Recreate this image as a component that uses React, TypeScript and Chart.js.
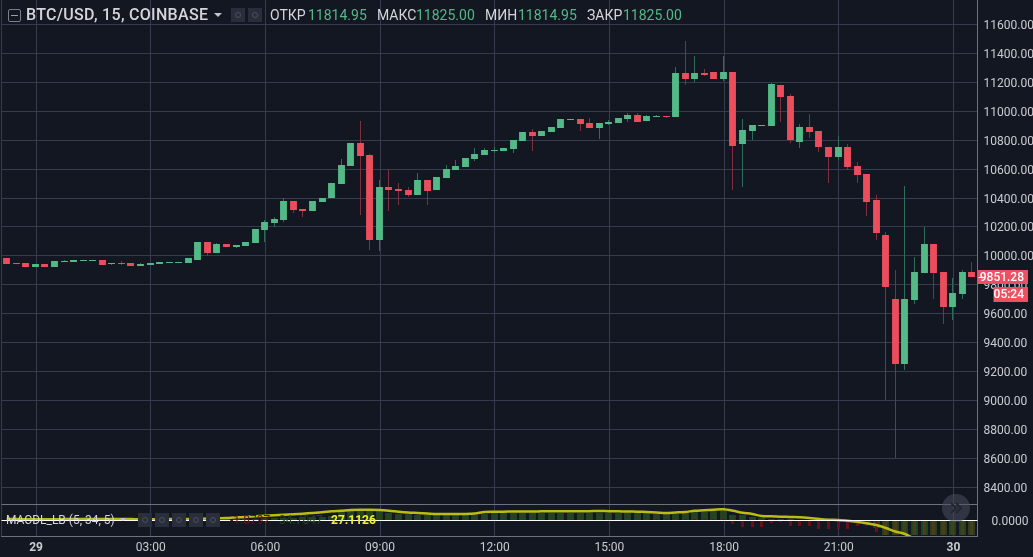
import React, { useEffect, useRef } from "react";
import { Chart, registerables } from "chart.js";

Chart.register(...registerables);

const opens = [9988,9954,9954,9920,9947,9926,9961,9961,9968,9968,9975,9947,9954,9954,9933,9940,9947,9954,9954,9954,9975,10099,10023,10085,10064,10071,10092,10182,10230,10251,10382,10327,10313,10375,10400,10499,10623,10782,10699,10112,10478,10464,10457,10423,10526,10457,10540,10595,10616,10671,10699,10726,10726,10740,10795,10857,10830,10857,10885,10940,10947,10920,10885,10913,10920,10947,10975,10934,10961,10968,10961,11264,11223,11264,11271,11223,11271,10775,10864,10899,10899,11182,11106,10788,10892,10864,10754,10685,10754,10623,10568,10389,10147,9699,9250,9692,9885,10085,9892,9644,9733,9892];
const closes = [9947,9947,9920,9947,9926,9968,9968,9975,9975,9975,9940,9954,9947,9933,9947,9954,9961,9961,9961,9982,10099,10023,10085,10064,10078,10099,10189,10237,10258,10382,10320,10313,10382,10403,10506,10630,10782,10692,10112,10478,10457,10450,10423,10526,10450,10547,10602,10623,10678,10706,10733,10733,10747,10802,10857,10830,10864,10892,10947,10947,10913,10885,10920,10927,10954,10975,10927,10968,10968,10961,11264,11223,11264,11250,11223,11271,10761,10871,10906,10906,11189,11099,10802,10892,10857,10754,10685,10754,10616,10561,10375,10161,9788,9250,9699,9892,10085,9885,9644,9740,9892,9851.28];
const highs = [9988,9954,9954,9947,9947,9968,9975,9975,9975,9975,9975,9954,9968,9954,9954,9954,9961,9961,9961,9982,10099,10099,10092,10085,10078,10099,10189,10251,10271,10400,10382,10327,10382,10403,10506,10671,10782,10933,10706,10526,10600,10506,10478,10575,10526,10547,10630,10664,10678,10747,10747,10754,10747,10802,10857,10878,10864,10892,10947,10947,10947,10954,10920,10940,10954,10989,10989,10975,10975,10968,11306,11485,11382,11292,11271,11382,11271,10947,10906,10906,11195,11182,11120,10913,10982,10864,10754,10830,10775,10651,10568,10423,10168,9899,10485,9989,10202,10085,9892,9844,9899,9961];
const lows = [9947,9947,9920,9920,9926,9926,9961,9961,9968,9968,9940,9940,9940,9933,9933,9940,9947,9954,9954,9954,9975,10002,10023,10064,10058,10071,10092,10099,10202,10237,10299,10271,10313,10375,10400,10499,10623,10285,10043,10036,10312,10354,10409,10423,10354,10457,10540,10595,10616,10657,10699,10713,10726,10713,10795,10726,10830,10857,10885,10940,10864,10885,10809,10906,10920,10927,10927,10934,10961,10954,10961,11182,11202,11244,11223,11209,10457,10478,10802,10899,10899,10926,10781,10747,10816,10719,10506,10665,10596,10506,10278,10113,9002,8600,9209,9664,9885,9699,9526,9554,9699,9851.28];

const macdLine = [9,9,8,8,8,8,9,9,10,10,9,9,9,9,8,8,9,9,9,10,12,14,17,20,27,30,37,43,47,53,57,63,70,77,87,93,100,103,103,100,93,83,75,70,65,60,60,60,60,65,80,82,83,85,85,85,87,88,88,88,88,88,90,88,87,85,83,80,75,70,75,80,93,97,103,107,93,73,60,40,37,33,30,27,20,10,3,0,-8,-17,-33,-50,-80,-115,-140,-190,-240,-280,-310,-330,-340,-345];
const histGreen = [0,0,0,0,0,0,0,0,0,0,0,0,0,0,0,0,0,0,0,0,0,0,5,8,10,12,15,18,20,23,25,28,30,33,37,90,95,98,98,95,70,65,60,55,50,50,50,50,50,55,65,70,72,72,72,72,75,75,75,75,75,75,75,72,72,70,70,68,62,58,62,68,80,85,90,95,50,47,27,18,12,8,6,5,4,3,2,0,-10,-30,-50,-80,-147,-147,-147,-147,-147,-147,-147,-147,-147,-147];
const histRed = [0,0,0,0,0,0,0,0,0,0,0,0,0,0,0,0,0,0,0,0,0,0,0,0,0,0,0,0,0,0,0,0,0,0,0,0,0,0,0,0,0,0,0,0,0,0,0,0,0,0,0,0,0,0,0,0,0,0,0,0,0,0,0,0,0,0,0,0,8,6,0,8,10,12,10,10,-40,-73,-70,-67,-27,-17,-60,-60,-60,-87,-93,-87,-93,-60,-60,-120,-147,-147,-147,-147,-147,-147,-147,-147,-147,-147];

const priceTickStep = 200;
const timeTickCandles = [3.07,15.07,27.07,39.07,51.07,63.07,75.07,87.07,99.07];
const timeTickLabels = ["29","03:00","06:00","09:00","12:00","15:00","18:00","21:00","30"];

const lastPriceLabel = "9851.28";
const lastPrice = 9851.28;
const countdown = "05:24";

const UP = "#53b987";
const DOWN = "#eb4d5c";
const UP_WICK = "#2f6d58";
const DOWN_WICK = "#7e2f40";
const GRID = "#363c4e";
const EDGE = "#6f727c";
const TEXT = "#c9ccd2";
const FONT = "Roboto, 'Liberation Sans', sans-serif";
const TAG_RIGHT = 1028;

const noPadding = (axis: any) => {
  axis.paddingTop = 0;
  axis.paddingBottom = 0;
  axis.paddingLeft = 0;
  axis.paddingRight = 0;
};

const snapPlugin = {
  id: "snap",
  afterDatasetsUpdate(chart: any) {
    chart.data.datasets.forEach((d: any, i: number) => {
      if (d.type === "line") return;
      chart.getDatasetMeta(i).data.forEach((el: any) => {
        el.x = Math.floor(el.x) + 0.5;
        el.y = Math.round(el.y);
        el.base = Math.round(el.base);
        if (el.y === el.base) el.base = el.y + 1;
      });
    });
  },
};

const panePlugin = {
  id: "pane",
  beforeDatasetDraw(chart: any, args: any) {
    if (args.meta.yAxisID !== "y2") return;
    const { ctx, chartArea, scales } = chart;
    ctx.save();
    ctx.beginPath();
    ctx.rect(chartArea.left, scales.y2.top, chartArea.right - chartArea.left, scales.y2.bottom - scales.y2.top);
    ctx.clip();
  },
  afterDatasetDraw(chart: any, args: any) {
    if (args.meta.yAxisID === "y2") chart.ctx.restore();
  },
  afterDraw(chart: any) {
    const { ctx, chartArea, scales } = chart;
    const { left, right } = chartArea;
    ctx.save();
    // left edge of the plot and separators
    ctx.fillStyle = GRID;
    ctx.fillRect(left - 0.5, 0, 1, scales.y2.bottom);
    ctx.fillStyle = EDGE;
    ctx.fillRect(left, Math.floor(scales.y2.top), right - left, 1);
    ctx.fillRect(left, Math.floor(scales.y2.bottom), right - left, 1);
    // white zero line over the indicator
    const zero = scales.y2.getPixelForValue(0);
    ctx.fillStyle = "#ffffff";
    ctx.fillRect(left, Math.round(zero), right - left, 1);

    // last price and countdown tags
    const py = Math.round(scales.y.getPixelForValue(lastPrice));
    ctx.fillStyle = "#ee5061";
    ctx.fillRect(right, py - 7, TAG_RIGHT - right, 14);
    ctx.fillRect(right + 16, py + 10, TAG_RIGHT - right - 16, 15);
    ctx.fillStyle = "#ffffff";
    ctx.fillRect(right + 1, py, 4, 1);
    ctx.font = `500 12px ${FONT}`;
    ctx.textBaseline = "middle";
    ctx.textAlign = "right";
    ctx.fillText(lastPriceLabel, TAG_RIGHT - 4, py + 0.5);
    ctx.fillText(countdown, TAG_RIGHT - 4, py + 18);
    ctx.restore();
  },
};

function Square({ x, y, w, h, bg }: { x: number; y: number; w: number; h: number; bg: string }) {
  return (
    <div style={{ position: "absolute", left: x, top: y, width: w, height: h, background: bg }}>
      <div
        style={{
          position: "absolute",
          left: w / 2 - 3.5,
          top: h / 2 - 3.5,
          width: 4,
          height: 4,
          border: "1.5px solid #4a4f5e",
          borderRadius: "50%",
        }}
      />
    </div>
  );
}

function Txt({ x, y, color, size, weight, spacing, children }: any) {
  return (
    <span
      style={{
        position: "absolute",
        left: x,
        top: y,
        color,
        fontSize: size,
        fontWeight: weight || 400,
        letterSpacing: spacing || 0,
        lineHeight: "16px",
        whiteSpace: "nowrap",
        fontFamily: FONT,
      }}
    >
      {children}
    </span>
  );
}

export default function App() {
  const ref = useRef<HTMLCanvasElement>(null);
  useEffect(() => {
    const idx = opens.map((_, i) => i);
    const chart = new Chart(ref.current as HTMLCanvasElement, {
      type: "bar",
      plugins: [snapPlugin, panePlugin],
      data: {
        datasets: [
          {
            type: "line",
            label: "MACD",
            yAxisID: "y2",
            data: idx.map((i) => ({ x: i, y: macdLine[i] })),
            borderColor: "#bcbc14",
            borderWidth: 2.5,
            pointRadius: 0,
            tension: 0.3,
            order: 0,
          },
          {
            label: "Hist down",
            yAxisID: "y2",
            data: idx.map((i) => ({ x: i, y: histRed[i] })),
            backgroundColor: idx.map((i) => (i >= 92 ? "#4c3c1a" : "#6c0f14")),
            grouped: false,
            maxBarThickness: 3,
            inflateAmount: 0,
            order: 1,
          },
          {
            label: "Hist up",
            yAxisID: "y2",
            data: idx.map((i) => ({ x: i, y: histGreen[i] })),
            backgroundColor: "#24431f",
            grouped: false,
            inflateAmount: 0,
            order: 2,
          },
          {
            label: "Body",
            yAxisID: "y",
            data: idx.map((i) => ({ x: i, y: [opens[i], closes[i]] })),
            backgroundColor: idx.map((i) => (closes[i] >= opens[i] ? UP : DOWN)),
            grouped: false,
            maxBarThickness: 7,
            inflateAmount: 0,
            order: 3,
          },
          {
            label: "Wick",
            yAxisID: "y",
            data: idx.map((i) => ({ x: i, y: [lows[i], highs[i]] })),
            backgroundColor: idx.map((i) => (closes[i] >= opens[i] ? UP_WICK : DOWN_WICK)),
            grouped: false,
            maxBarThickness: 1,
            inflateAmount: 0,
            order: 4,
          },
        ] as any,
      },
      options: {
        responsive: false,
        animation: false,
        devicePixelRatio: 1,
        layout: { autoPadding: false, padding: { left: 1.5, top: 0, right: 0, bottom: 0 } },
        plugins: { legend: { display: false }, tooltip: { enabled: false }, title: { display: false } },
        scales: {
          x: {
            type: "linear",
            min: -0.544,
            max: 101.59,
            offset: false,
            grid: { color: GRID, drawTicks: false, offset: false },
            border: { color: EDGE },
            afterBuildTicks: (axis: any) => {
              axis.ticks = timeTickCandles.map((value) => ({ value }));
            },
            afterFit: (axis: any) => {
              axis.height = 20.5;
              noPadding(axis);
            },
            ticks: {
              autoSkip: false,
              maxRotation: 0,
              padding: 4,
              color: TEXT,
              font: (c: any) => ({
                family: FONT,
                size: 12,
                weight: timeTickLabels[c.index]?.length === 2 ? "bold" : "normal",
              }),
              callback: (_: any, i: number) => timeTickLabels[i],
            },
          },
          y: {
            type: "linear",
            position: "right",
            stack: "panes",
            stackWeight: 504.5,
            min: 8279.6,
            max: 11770.9,
            grid: { color: GRID, drawTicks: false },
            border: { color: EDGE },
            afterFit: (axis: any) => {
              axis.width = 55.5;
              noPadding(axis);
            },
            ticks: {
              stepSize: priceTickStep,
              includeBounds: false,
              autoSkip: false,
              padding: 6,
              labelOffset: 1.5,
              color: TEXT,
              font: { family: FONT, size: 12 },
              callback: (v: any) => Number(v).toFixed(2),
            },
          },
          y2: {
            type: "linear",
            position: "right",
            stack: "panes",
            stackWeight: 32,
            min: -165,
            max: 155,
            grid: { display: false },
            border: { color: EDGE },
            afterBuildTicks: (axis: any) => {
              axis.ticks = [{ value: 0 }];
            },
            afterFit: (axis: any) => {
              axis.width = 55.5;
              noPadding(axis);
            },
            ticks: {
              padding: 6,
              labelOffset: 1.5,
              color: TEXT,
              font: { family: FONT, size: 12 },
              callback: (v: any) => Number(v).toFixed(4),
            },
          },
        },
      } as any,
    });
    return () => chart.destroy();
  }, []);

  return (
    <div style={{ position: "fixed", left: 0, top: 0, width: 1033, height: 557, background: "#131722", overflow: "hidden" }}>
      <canvas ref={ref} width={1033} height={557} style={{ display: "block", width: 1033, height: 557 }} />

      <div style={{ position: "absolute", left: 8, top: 9, width: 11, height: 11, border: "1px solid #7b7f8b", borderRadius: 2 }}>
        <div style={{ position: "absolute", left: 2, top: 5, width: 7, height: 1, background: "#9a9ea8" }} />
      </div>
      <Txt x={26} y={7} color="#d4d6dc" size={16} weight={500} spacing={0.3}>BTC/USD, 15, COINBASE</Txt>
      <div style={{ position: "absolute", left: 214, top: 13, width: 0, height: 0, borderLeft: "4px solid transparent", borderRight: "4px solid transparent", borderTop: "4px solid #c4c6cc" }} />
      <Square x={231} y={8} w={14} h={14} bg="#2a2e3b" />
      <Square x={248} y={8} w={14} h={14} bg="#2a2e3b" />
      <Txt x={270} y={7} color="#d4d6dc" size={14}>ОТКР</Txt>
      <Txt x={308} y={7} color={UP} size={14}>11814.95</Txt>
      <Txt x={377} y={7} color="#d4d6dc" size={14}>МАКС</Txt>
      <Txt x={416} y={7} color={UP} size={14}>11825.00</Txt>
      <Txt x={485} y={7} color="#d4d6dc" size={14}>МИН</Txt>
      <Txt x={518} y={7} color={UP} size={14}>11814.95</Txt>
      <Txt x={587} y={7} color="#d4d6dc" size={14}>ЗАКР</Txt>
      <Txt x={623} y={7} color={UP} size={14}>11825.00</Txt>

      <Txt x={6} y={512} color="#d4d6dc" size={12}>MACDL_LB (5, 34, 5)</Txt>
      <div style={{ position: "absolute", left: 120, top: 518, width: 0, height: 0, borderLeft: "3.5px solid transparent", borderRight: "3.5px solid transparent", borderTop: "3.5px solid #c4c6cc" }} />
      <Square x={138} y={513} w={14} h={14} bg="#2a2e3b" />
      <Square x={155} y={513} w={14} h={14} bg="#2a2e3b" />
      <Square x={172} y={513} w={14} h={14} bg="#2a2e3b" />
      <Square x={189} y={513} w={14} h={14} bg="#2a2e3b" />
      <Square x={206} y={513} w={14} h={14} bg="#2a2e3b" />
      <Txt x={230} y={512} color="#6c0f14" size={12}>-1.8797</Txt>
      <Txt x={279} y={512} color="#24431f" size={12}>34.7047</Txt>
      <Txt x={331} y={512} color="#f2f21e" size={12} weight={700}>27.1126</Txt>

      <svg width={28} height={28} style={{ position: "absolute", left: 942, top: 494 }}>
        <circle cx={14} cy={14} r={14} fill="#4a4f5e" fillOpacity={0.55} />
        <path d="M9 9 L14 14 L9 19 M14 9 L19 14 L14 19" stroke="#23262f" strokeWidth={2} fill="none" />
      </svg>
    </div>
  );
}
